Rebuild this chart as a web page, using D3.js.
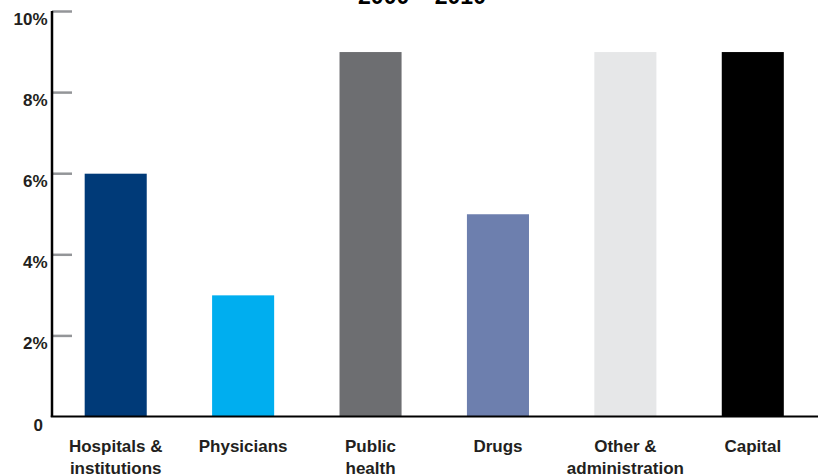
<!DOCTYPE html>
<html>
<head>
<meta charset="utf-8">
<script src="https://cdn.jsdelivr.net/npm/d3@7"></script>
<style>
  html, body { margin: 0; padding: 0; background: #fff; }
  svg { display: block; }
  text { font-family: "Liberation Sans", Arial, sans-serif; font-weight: bold; fill: #231f20; }
</style>
</head>
<body>
<svg id="chart" width="818" height="475"></svg>
<script>
const title = "2000 – 2010";
const categories = [["Hospitals &", "institutions"], ["Physicians"], ["Public", "health"], ["Drugs"], ["Other &", "administration"], ["Capital"]];
const values = [6, 3, 9, 5, 9, 9];
const colors = ["#003a78", "#00aeef", "#6d6e71", "#6d7fae", "#e6e7e8", "#000000"];
const yTicks = [0, 2, 4, 6, 8, 10];
const yTickLabels = ["0", "2%", "4%", "6%", "8%", "10%"];

const svg = d3.select("#chart");
const W = 818;
const x0 = 52, x1 = 816.5;

const x = d3.scaleBand()
  .domain(d3.range(values.length))
  .range([x0, x1])
  .paddingInner(0.513)
  .paddingOuter(0.2565);

const y = d3.scaleLinear().domain([0, 10]).range([417, 11.5]);

// title (mostly cut off at top)
svg.append("text")
  .attr("x", 422).attr("y", 4)
  .attr("text-anchor", "middle")
  .style("font-size", "23px")
  .style("fill", "#000")
  .text(title);

// bars
svg.selectAll("rect.bar").data(values).join("rect")
  .attr("class", "bar")
  .attr("x", (d, i) => x(i))
  .attr("width", x.bandwidth())
  .attr("y", d => y(d))
  .attr("height", d => y(0) - y(d))
  .attr("fill", (d, i) => colors[i]);

// gray tick marks (skip 0)
svg.selectAll("line.tick").data(yTicks.filter(t => t > 0)).join("line")
  .attr("class", "tick")
  .attr("x1", x0).attr("x2", x0 + 20)
  .attr("y1", d => y(d)).attr("y2", d => y(d))
  .attr("stroke", "#939598").attr("stroke-width", 2.5);

// vertical axis
svg.append("line")
  .attr("x1", x0).attr("x2", x0)
  .attr("y1", y(10) - 0.5).attr("y2", y(0))
  .attr("stroke", "#000").attr("stroke-width", 2.5);

// baseline
svg.append("line")
  .attr("x1", x0 - 1.25).attr("x2", W)
  .attr("y1", y(0) - 0.5).attr("y2", y(0) - 0.5)
  .attr("stroke", "#000").attr("stroke-width", 2);

// tick labels
svg.selectAll("text.ylab").data(yTicks).join("text")
  .attr("class", "ylab")
  .attr("x", d => d === 0 ? 43 : 47.5)
  .attr("y", d => y(d) + 13.5)
  .attr("text-anchor", "end")
  .style("font-size", "17px")
  .text((d, i) => yTickLabels[i]);

// category labels
const lab = svg.selectAll("text.xlab").data(categories).join("text")
  .attr("class", "xlab")
  .attr("text-anchor", "middle")
  .style("font-size", "17px");
lab.selectAll("tspan").data((d, i) => d.map(s => ({ s, i }))).join("tspan")
  .attr("x", d => x(d.i) + x.bandwidth() / 2)
  .attr("y", (d, j) => 451.5 + j * 22)
  .text(d => d.s);
</script>
</body>
</html>
